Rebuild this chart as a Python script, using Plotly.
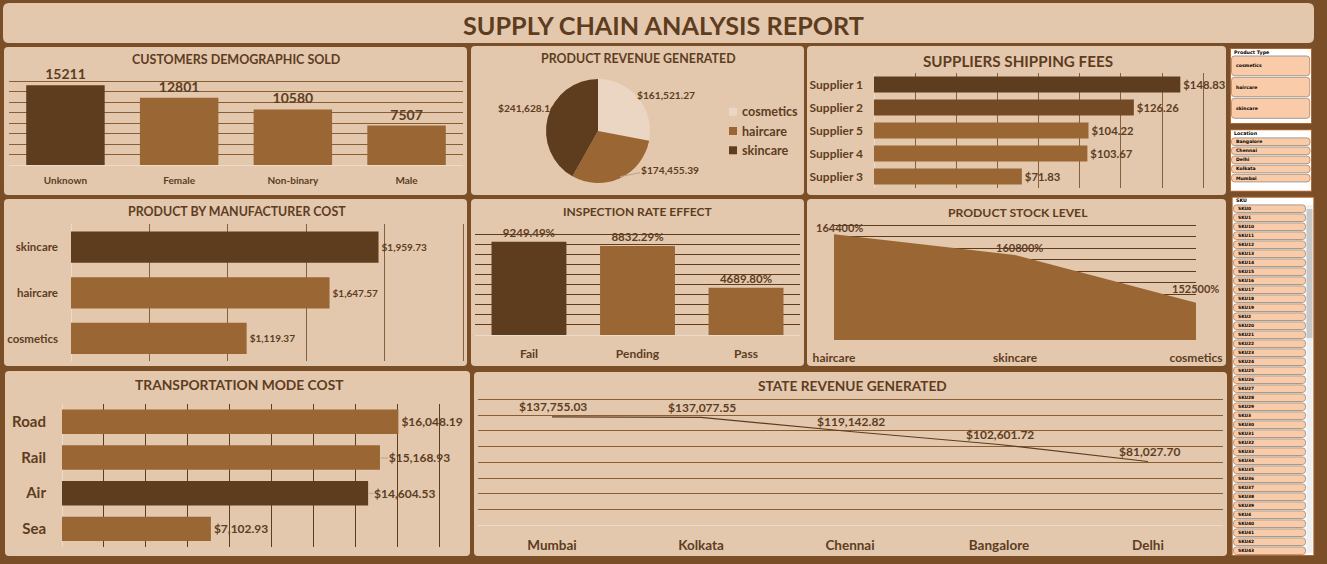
import plotly.graph_objects as go

W, H = 1327, 564

# ---------- data ----------
demo_cats = ["Unknown", "Female", "Non-binary", "Male"]
demo_vals = [15211, 12801, 10580, 7507]

rev_cats = ["cosmetics", "haircare", "skincare"]
rev_vals = [161521.27, 174455.39, 241628.16]

sup_cats = ["Supplier 1", "Supplier 2", "Supplier 5", "Supplier 4", "Supplier 3"]
sup_vals = [148.83, 126.26, 104.22, 103.67, 71.83]

man_cats = ["skincare", "haircare", "cosmetics"]
man_vals = [1959.73, 1647.57, 1119.37]

insp_cats = ["Fail", "Pending", "Pass"]
insp_vals = [9249.49, 8832.29, 4689.80]

stock_cats = ["haircare", "skincare", "cosmetics"]
stock_vals = [1644, 1608, 1525]

trans_cats = ["Road", "Rail", "Air", "Sea"]
trans_vals = [16048.19, 15168.93, 14604.53, 7102.93]

state_cats = ["Mumbai", "Kolkata", "Chennai", "Bangalore", "Delhi"]
state_vals = [137755.03, 137077.55, 119142.82, 102601.72, 81027.70]

type_items = ["cosmetics", "haircare", "skincare"]
loc_items = ["Bangalore", "Chennai", "Delhi", "Kolkata", "Mumbai"]
sku_items = ["SKU0", "SKU1", "SKU10", "SKU11", "SKU12", "SKU13", "SKU14", "SKU15", "SKU16", "SKU17",
             "SKU18", "SKU19", "SKU2", "SKU20", "SKU21", "SKU22", "SKU23", "SKU24", "SKU25", "SKU26",
             "SKU27", "SKU28", "SKU29", "SKU3", "SKU30", "SKU31", "SKU32", "SKU33", "SKU34", "SKU35",
             "SKU36", "SKU37", "SKU38", "SKU39", "SKU4", "SKU40", "SKU41", "SKU42", "SKU43"]

# ---------- style ----------
BG = "#7A4F28"
PANEL = "#E3C8AE"
DARK = "#5E3D1F"
MID = "#996634"
MID2 = "#744A25"
LIGHT = "#EAD6C3"
GRID = "#8A5E35"
BASE = "#EADBCB"
FONT = "Lato"
TXT = "#5E3D1F"
EXT = 1.5  # px added past the last gridline so plotly does not drop it

shapes, anns = [], []


def fx(x):
    return x / W


def fy(y):
    return 1 - y / H


def rrect(x0, y0, x1, y1, r, fill, line=None, lw=1):
    X0, X1, Y0, Y1 = fx(x0), fx(x1), fy(y0), fy(y1)
    rx, ry = r / W, r / H
    p = (f"M {X0+rx} {Y0} L {X1-rx} {Y0} Q {X1} {Y0} {X1} {Y0-ry} L {X1} {Y1+ry} Q {X1} {Y1} {X1-rx} {Y1} "
         f"L {X0+rx} {Y1} Q {X0} {Y1} {X0} {Y1+ry} L {X0} {Y0-ry} Q {X0} {Y0} {X0+rx} {Y0} Z")
    shapes.append(dict(type="path", path=p, xref="paper", yref="paper", fillcolor=fill,
                       line=dict(color=line or fill, width=lw if line else 0), layer="below"))


def rect(x0, y0, x1, y1, fill, layer="below"):
    shapes.append(dict(type="rect", xref="paper", yref="paper", x0=fx(x0), x1=fx(x1), y0=fy(y0), y1=fy(y1),
                       fillcolor=fill, line=dict(width=0), layer=layer))


def pline(x0, y0, x1, y1, color="#B9A48F"):
    shapes.append(dict(type="line", xref="paper", yref="paper", x0=fx(x0), y0=fy(y0), x1=fx(x1), y1=fy(y1),
                       line=dict(color=color, width=1), layer="above"))


def text(x, y, s, size, color=TXT, family=FONT, anchor="center", bold=True):
    anns.append(dict(x=fx(x), y=fy(y), xref="paper", yref="paper", text=f"<b>{s}</b>" if bold else s,
                     showarrow=False, xanchor=anchor, yanchor="middle", borderpad=0,
                     font=dict(size=size, color=color, family=family)))


def data_label(xr, yr, x, y, s, size, dx, dy):
    anns.append(dict(x=x, y=y, xref=xr, yref=yr, text=f"<b>{s}</b>", showarrow=False, xanchor="center",
                     yanchor="middle", xshift=dx, yshift=dy, borderpad=0,
                     font=dict(size=size, color=TXT, family=FONT)))


# panels
rrect(3, 3, 1314, 43, 6, PANEL)
for box in [(4, 47, 467, 195), (471, 46, 804, 195), (807, 46, 1226, 195),
            (4, 199, 467, 366), (471, 199, 804, 366), (807, 199, 1226, 366),
            (5, 371, 470, 556), (474, 372, 1227, 556)]:
    rrect(*box, 4, PANEL)

# titles
text(663, 25, "SUPPLY CHAIN ANALYSIS REPORT", 25.2)
text(236.5, 59.5, "CUSTOMERS DEMOGRAPHIC SOLD", 12.5)
text(638.5, 58.5, "PRODUCT REVENUE GENERATED", 12.4)
text(1017.5, 60.5, "SUPPLIERS SHIPPING FEES", 15.2)
text(237, 211.5, "PRODUCT BY MANUFACTURER COST", 12.4)
text(637.5, 211.5, "INSPECTION RATE EFFECT", 12)
text(1018, 212.5, "PRODUCT STOCK LEVEL", 12.2)
text(239, 384, "TRANSPORTATION MODE COST", 13.8)
text(852.5, 385, "STATE REVENUE GENERATED", 13.7)

fig = go.Figure()
layout_axes = {}


def axes(n, l, r, t, b, xa, ya):
    sx = "" if n == 1 else str(n)
    xa = dict(domain=[fx(l), fx(r)], anchor=f"y{sx}", fixedrange=True, automargin=False, **xa)
    ya = dict(domain=[fy(b), fy(t)], anchor=f"x{sx}", fixedrange=True, automargin=False, **ya)
    layout_axes[f"xaxis{sx}"] = xa
    layout_axes[f"yaxis{sx}"] = ya
    return f"x{sx}", f"y{sx}"


def catfont(size):
    return dict(size=size, family=FONT, color=TXT, weight="bold")


def vbar(n, box, cats, vals, colors, labels, top, dtick, grid, tsize, lsize, standoff):
    l, r, t, b = box
    top2 = top * (b - t + EXT) / (b - t)
    xr, yr = axes(n, l, r, t - EXT, b,
                  dict(type="category", categoryorder="array", categoryarray=cats, showgrid=False,
                       showline=False, zeroline=False, ticks="", tickfont=catfont(tsize),
                       ticklabelstandoff=standoff),
                  dict(range=[0, top2], tick0=0, dtick=dtick, showgrid=True, gridcolor=grid, gridwidth=1,
                       zeroline=True, zerolinecolor=BASE, zerolinewidth=1, showticklabels=False, ticks=""))
    fig.add_trace(go.Bar(x=cats, y=vals, xaxis=xr, yaxis=yr, marker=dict(color=colors, line=dict(width=0)),
                         text=labels, textposition="outside", cliponaxis=False, constraintext="none",
                         textangle=0, textfont=dict(size=lsize, family=FONT, color=TXT, weight="bold"),
                         showlegend=False, hoverinfo="skip"))


def hbar(n, box, cats, vals, colors, labels, top, dtick, grid, tsize, lsize, standoff):
    l, r, t, b = box
    top2 = top * (r - l + EXT) / (r - l)
    xr, yr = axes(n, l, r + EXT, t, b,
                  dict(range=[0, top2], tick0=0, dtick=dtick, showgrid=True, gridcolor=grid, gridwidth=1,
                       zeroline=True, zerolinecolor=BASE, zerolinewidth=1, showticklabels=False, ticks=""),
                  dict(type="category", categoryorder="array", categoryarray=cats,
                       range=[len(cats) - 0.5, -0.5], showgrid=False, showline=False, zeroline=False, ticks="",
                       tickfont=catfont(tsize), ticklabelstandoff=standoff))
    fig.add_trace(go.Bar(y=cats, x=vals, orientation="h", xaxis=xr, yaxis=yr,
                         marker=dict(color=colors, line=dict(width=0)), width=0.685,
                         text=labels, textposition="outside", cliponaxis=False, constraintext="none",
                         textangle=0, textfont=dict(size=lsize, family=FONT, color=TXT, weight="bold"),
                         showlegend=False, hoverinfo="skip"))


# 1 customers
vbar(1, (8.6, 463.4, 81, 165), demo_cats, demo_vals, [DARK, MID, MID, MID],
     [str(v) for v in demo_vals], 16000, 2000, GRID, 10, 14, 8)
# 3 suppliers
hbar(2, (874, 1203.3, 73, 188), sup_cats, sup_vals, [DARK, MID2, MID, MID, MID],
     [f"${v:,.2f}" for v in sup_vals], 160, 20, "#84603C", 12, 11.3, 10)
# 4 manufacturer
hbar(3, (71, 463.3, 224.3, 361.3), man_cats, man_vals, [DARK, MID, MID],
     [f"${v:,.2f}" for v in man_vals], 2500, 500, "#84603C", 11.5, 10, 12)
# 5 inspection
vbar(4, (474.7, 800.3, 234.3, 335), insp_cats, insp_vals, [DARK, MID, MID],
     [f"{v:.2f}%" for v in insp_vals], 10000, 1000, DARK, 12, 11.5, 10)
# 7 transport
trans_pad = ["", "\u00a0\u00a0", "\u00a0", ""]
hbar(5, (62, 439.3, 404, 546.7), trans_cats, trans_vals, [MID, MID, DARK, MID],
     [p + f"${v:,.2f}" for p, v in zip(trans_pad, trans_vals)], 18000, 2000, DARK, 15, 12, 15)
pline(381, 458, 388, 458)
pline(369, 493.3, 374, 493.3)

# 6 stock area
xr, yr = axes(6, 834, 1196, 225 - EXT, 340,
              dict(type="category", categoryorder="array", categoryarray=stock_cats, range=[0, 2],
                   showgrid=False, zeroline=False, ticks="", tickfont=catfont(12), ticklabelstandoff=9),
              dict(range=[1460, 1660 + 200 * EXT / 115], dtick=20, tick0=1460, showgrid=True, gridcolor=DARK,
                   gridwidth=1, zeroline=False, showticklabels=False, ticks=""))
fig.add_trace(go.Scatter(x=stock_cats, y=[1460] * len(stock_cats), xaxis=xr, yaxis=yr, mode="lines",
                         line=dict(width=0), showlegend=False, hoverinfo="skip"))
fig.add_trace(go.Scatter(x=stock_cats, y=stock_vals, xaxis=xr, yaxis=yr, mode="lines", fill="tonexty",
                         fillcolor=MID, line=dict(width=0, color=MID), showlegend=False, hoverinfo="skip"))
stock_shift = [(5, 7), (4, 7), (-1, 14)]
for c, v, (dx, dy) in zip(stock_cats, stock_vals, stock_shift):
    data_label(xr, yr, c, v, f"{v * 100}%", 11, dx, dy)

# 8 state line
xr, yr = axes(7, 477.5, 1222.5, 399.3 - EXT, 525.3,
              dict(type="category", categoryorder="array", categoryarray=state_cats, range=[-0.5, 4.5],
                   showgrid=False, zeroline=False, ticks="", tickfont=catfont(13.5), ticklabelstandoff=10),
              dict(range=[0, 160000 * (126 + EXT) / 126], tick0=0, dtick=20000, showgrid=True, gridcolor=GRID,
                   gridwidth=1, zeroline=True, zerolinecolor=BASE, zerolinewidth=1, showticklabels=False, ticks=""))
fig.add_trace(go.Scatter(x=state_cats, y=state_vals, xaxis=xr, yaxis=yr, mode="lines",
                         line=dict(color=DARK, width=1.2), showlegend=False, hoverinfo="skip"))
for c, v in zip(state_cats, state_vals):
    data_label(xr, yr, c, v, f"${v:,.2f}", 12, 1, 10)

# 2 pie
fig.add_trace(go.Pie(labels=rev_cats, values=rev_vals, sort=False, direction="clockwise", rotation=0,
                     marker=dict(colors=[LIGHT, MID, DARK], line=dict(width=0)), textinfo="none",
                     domain=dict(x=[fx(546), fx(650)], y=[fy(183), fy(79)]), showlegend=False, hoverinfo="skip"))
pie_pos = [(666, 95), (670, 170), (527, 108)]
for (px, py), v in zip(pie_pos, rev_vals):
    text(px, py, f"${v:,.2f}", 10.2)
pline(620, 176.7, 640, 172.7)
for c, col, ly in zip(rev_cats, [LIGHT, MID, DARK], [111.7, 131, 150.3]):
    rect(729, ly - 4, 737, ly + 4, col)
    text(741, ly, c, 12.6, anchor="left")

# slicers
SL_LINE = "#B5652A"
BTN = "#F9CBA8"
BTN_LINE = "#A89A8C"
SF = "DejaVu Sans"

rect(1230, 48, 1312, 124, SL_LINE)
rect(1231, 49, 1311, 123, "white")
text(1232.5, 52.5, "Product Type", 4.8, "black", SF, "left")
for item, (a, b) in zip(type_items, [(56, 75.7), (77.3, 96.7), (98.3, 118.3)]):
    rrect(1231.5, a, 1309.7, b, 3, BTN, BTN_LINE, 1)
    text(1234.5, (a + b) / 2, item, 4.6, "black", SF, "left")

rect(1230, 129.3, 1312, 191.7, SL_LINE)
rect(1231, 130.3, 1311, 190.7, "white")
text(1232.5, 134, "Location", 4.8, "black", SF, "left")
for i, item in enumerate(loc_items):
    cy = 141.7 + i * 9.1
    rrect(1231.5, cy - 3.8, 1310, cy + 3.8, 3, BTN, BTN_LINE, 1)
    text(1235, cy, item, 4.6, "black", SF, "left")

rect(1231.7, 196.7, 1314.3, 556, SL_LINE)
rect(1232.7, 197.7, 1313.3, 555, "white")
text(1235, 200.7, "SKU", 4.8, "black", SF, "left")
rect(1306.5, 205, 1312.5, 553, "#EFEFEF")
rect(1306.5, 209, 1312.5, 338, "#C8C8C8")
for i, item in enumerate(sku_items):
    cy = 208.7 + i * 9.0
    rrect(1233.5, cy - 3.8, 1305.5, cy + 3.8, 3, BTN, BTN_LINE, 1)
    text(1237, cy, item, 4.4, "black", SF, "left")

fig.update_layout(width=W, height=H, margin=dict(l=0, r=0, t=0, b=0, pad=0), paper_bgcolor=BG, plot_bgcolor="rgba(0,0,0,0)",
                  shapes=shapes, annotations=anns, bargap=0.31, showlegend=False,
                  font=dict(family=FONT, color=TXT), **layout_axes)

fig.write_html("out.html", config=dict(displayModeBar=False),
               post_script="document.body.style.margin='0';document.body.style.overflow='hidden';document.body.style.background='" + BG + "';")
